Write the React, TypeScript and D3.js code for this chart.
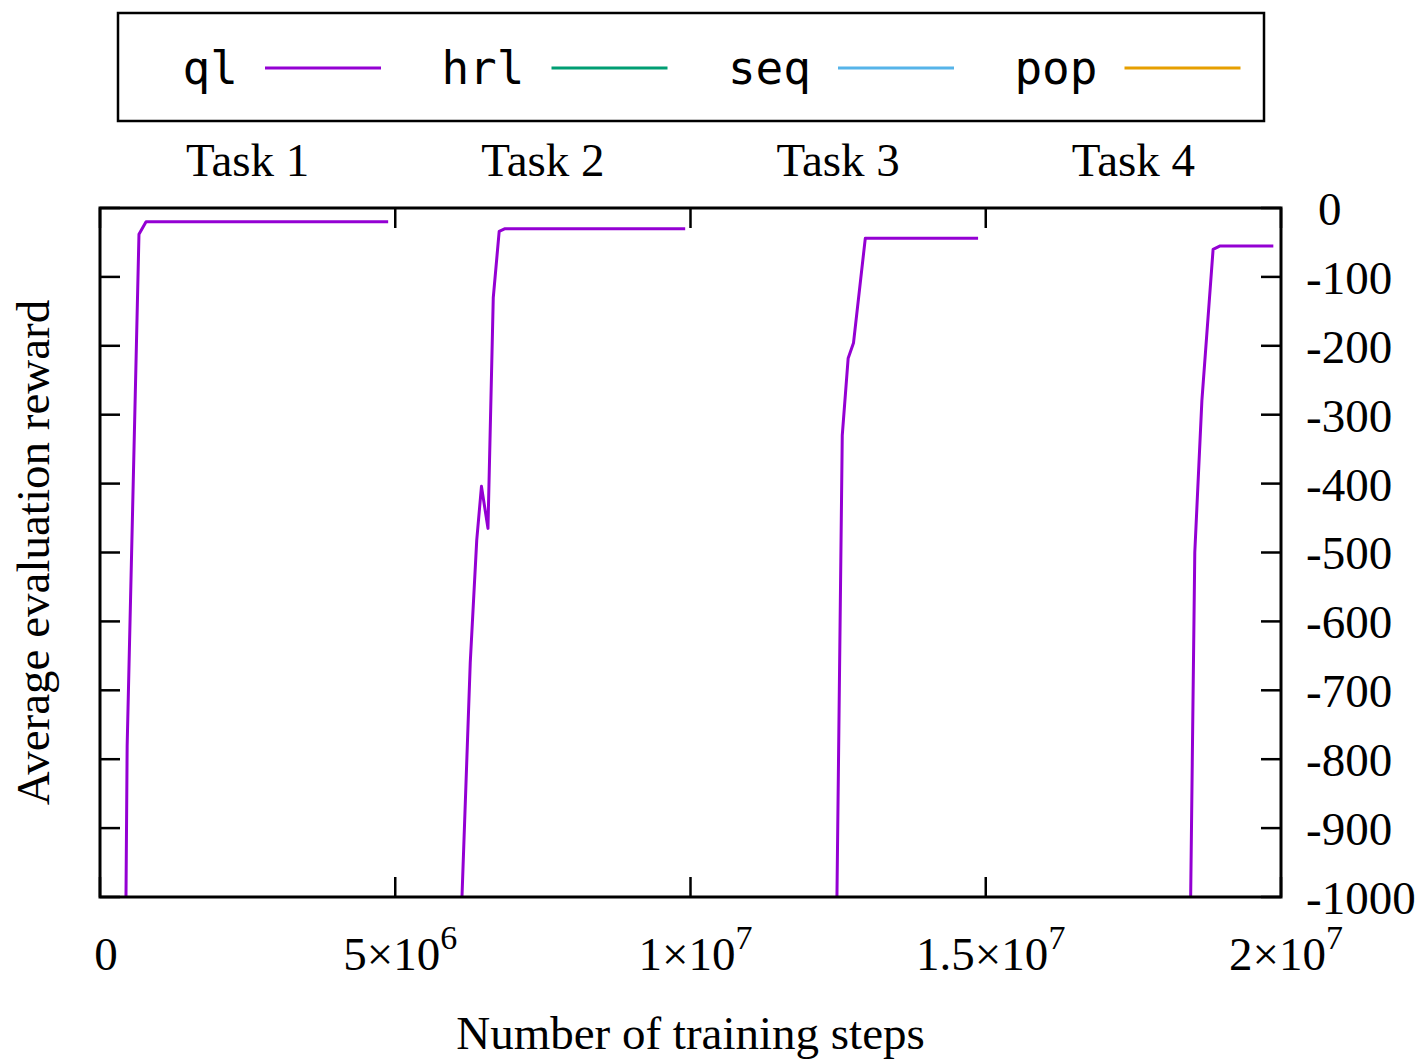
import * as d3 from 'd3'

// ql run, one segment per task
const task1Steps  = [0.44e6, 0.46e6, 0.66e6, 0.78e6, 4.88e6]
const task1Reward = [-1000, -780, -38, -20, -20]
const task2Steps  = [6.13e6, 6.27e6, 6.38e6, 6.46e6, 6.57e6, 6.66e6, 6.76e6, 6.86e6, 9.91e6]
const task2Reward = [-1000, -660, -482, -404, -465, -130, -34, -30, -30]
const task3Steps  = [12.48e6, 12.57e6, 12.67e6, 12.76e6, 12.96e6, 14.87e6]
const task3Reward = [-1000, -330, -218, -196, -44, -44]
const task4Steps  = [18.47e6, 18.54e6, 18.66e6, 18.85e6, 18.97e6, 19.87e6]
const task4Reward = [-1000, -500, -280, -60, -55, -55]

const seriesNames  = ['ql', 'hrl', 'seq', 'pop']
const seriesColors = ['#9400d3', '#009e73', '#56b4e9', '#e69f00']

const taskLabels  = ['Task 1', 'Task 2', 'Task 3', 'Task 4']
const taskCenters = [2.5e6, 7.5e6, 12.5e6, 17.5e6]

const xTicks = [0, 5e6, 1e7, 1.5e7, 2e7]
const xTickBase = ['0', '5×10', '1×10', '1.5×10', '2×10']
const xTickExp  = ['', '6', '7', '7', '7']
const yTicks = [0, -100, -200, -300, -400, -500, -600, -700, -800, -900, -1000]

const W = 1423
const H = 1063
const PLOT = { left: 100, right: 1281, top: 208, bottom: 897 }
const LEGEND = { left: 118, right: 1264, top: 13, bottom: 121 }
const SERIF = '"Liberation Serif", "DejaVu Serif", serif'
const MONO  = '"DejaVu Sans Mono", "Liberation Mono", monospace'
const FS = 47

export default function App() {
  const x = d3.scaleLinear().domain([0, 2e7]).range([PLOT.left, PLOT.right])
  const y = d3.scaleLinear().domain([-1000, 0]).range([PLOT.bottom, PLOT.top])

  const line = d3.line<[number, number]>().x(d => x(d[0])).y(d => y(d[1]))
  const segments = [
    [task1Steps, task1Reward],
    [task2Steps, task2Reward],
    [task3Steps, task3Reward],
    [task4Steps, task4Reward],
  ].map(([s, r]) => line(s.map((v, i) => [v, r[i]] as [number, number])) || '')

  const legendBand = d3.scaleBand().domain(seriesNames).range([LEGEND.left, LEGEND.right])
  const legendY = (LEGEND.top + LEGEND.bottom) / 2 + 1
  const TICK = 20

  return (
    <svg width={W} height={H} style={{ position: 'absolute', left: 0, top: 0, background: '#fff' }}>
      <defs>
        <clipPath id="plot-clip">
          <rect x={PLOT.left} y={PLOT.top} width={PLOT.right - PLOT.left} height={PLOT.bottom - PLOT.top} />
        </clipPath>
      </defs>
      <rect width={W} height={H} fill="#fff" />

      {/* Legend */}
      <rect x={LEGEND.left} y={LEGEND.top} width={LEGEND.right - LEGEND.left} height={LEGEND.bottom - LEGEND.top}
        fill="none" stroke="#000" strokeWidth={2.5} />
      {seriesNames.map((name, i) => {
        const b = legendBand(name) as number
        return (
          <g key={name}>
            <text x={b + 120} y={legendY} dy="0.35em" textAnchor="end" fontFamily={MONO} fontSize={46} fill="#000">{name}</text>
            <line x1={b + 147} x2={b + 263} y1={legendY} y2={legendY} stroke={seriesColors[i]} strokeWidth={3} />
          </g>
        )
      })}

      {/* Task labels */}
      {taskLabels.map((t, i) => (
        <text key={t} x={x(taskCenters[i])} y={176} textAnchor="middle" fontFamily={SERIF} fontSize={FS} fill="#000">{t}</text>
      ))}

      {/* Data */}
      <g clipPath="url(#plot-clip)">
        {segments.map((d, i) => (
          <path key={i} d={d} fill="none" stroke={seriesColors[0]} strokeWidth={3} strokeLinejoin="round" />
        ))}
      </g>

      {/* Ticks */}
      {xTicks.map(t => (
        <g key={t}>
          <line x1={x(t)} x2={x(t)} y1={PLOT.bottom} y2={PLOT.bottom - TICK} stroke="#000" strokeWidth={2.5} />
          <line x1={x(t)} x2={x(t)} y1={PLOT.top} y2={PLOT.top + TICK} stroke="#000" strokeWidth={2.5} />
        </g>
      ))}
      {yTicks.map(t => (
        <g key={t}>
          <line x1={PLOT.left} x2={PLOT.left + TICK} y1={y(t)} y2={y(t)} stroke="#000" strokeWidth={2.5} />
          <line x1={PLOT.right} x2={PLOT.right - TICK} y1={y(t)} y2={y(t)} stroke="#000" strokeWidth={2.5} />
        </g>
      ))}

      {/* Border */}
      <rect x={PLOT.left} y={PLOT.top} width={PLOT.right - PLOT.left} height={PLOT.bottom - PLOT.top}
        fill="none" stroke="#000" strokeWidth={3} />

      {/* Y tick labels (right) */}
      {yTicks.map(t => (
        <text key={t} x={1306} dx={t === 0 ? 12 : 0} y={y(t)} dy="0.36em" fontFamily={SERIF} fontSize={FS} fill="#000">{t}</text>
      ))}

      {/* X tick labels */}
      {xTicks.map((t, i) => (
        <text key={t} x={x(t) + (i === 0 ? 6 : 5)} y={970} textAnchor="middle" fontFamily={SERIF} fontSize={FS} fill="#000">
          {xTickBase[i]}
          {xTickExp[i] && <tspan dy={-21} fontSize={34}>{xTickExp[i]}</tspan>}
        </text>
      ))}

      {/* Axis titles */}
      <text x={(PLOT.left + PLOT.right) / 2} y={1049} textAnchor="middle" fontFamily={SERIF} fontSize={FS} fill="#000">
        Number of training steps
      </text>
      <text transform={`translate(49,${(PLOT.top + PLOT.bottom) / 2}) rotate(-90)`} textAnchor="middle"
        fontFamily={SERIF} fontSize={FS} fill="#000">
        Average evaluation reward
      </text>
    </svg>
  )
}
